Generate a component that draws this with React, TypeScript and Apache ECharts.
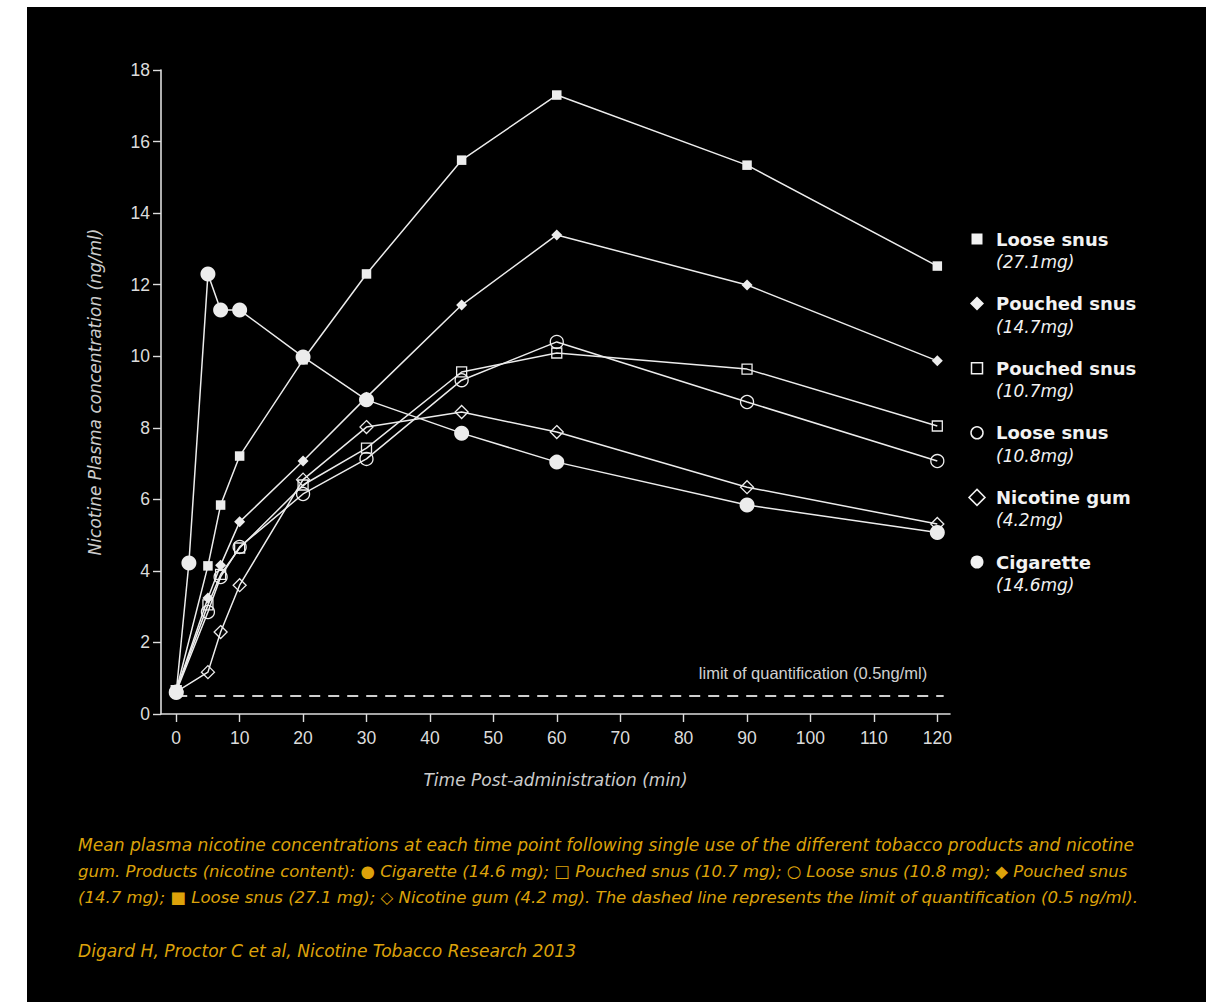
import React, { useEffect, useRef } from "react";
import * as echarts from "echarts";

// Sampling times (min)
const snusTimes = [0, 5, 7, 10, 20, 30, 45, 60, 90, 120];
const cigaretteTimes = [0, 2, 5, 7, 10, 20, 30, 45, 60, 90, 120];

// Mean plasma nicotine (ng/ml)
const looseSnus271 = [0.65, 4.14, 5.84, 7.21, 9.9, 12.3, 15.48, 17.3, 15.34, 12.52];
const pouchedSnus147 = [0.65, 3.24, 4.16, 5.37, 7.07, 8.85, 11.43, 13.39, 11.99, 9.87];
const pouchedSnus107 = [0.65, 3.05, 3.9, 4.64, 6.4, 7.43, 9.56, 10.09, 9.64, 8.05];
const looseSnus108 = [0.62, 2.85, 3.83, 4.67, 6.15, 7.13, 9.33, 10.4, 8.72, 7.07];
const nicotineGum42 = [0.62, 1.17, 2.29, 3.6, 6.55, 8.02, 8.44, 7.88, 6.34, 5.31];
const cigarette146 = [0.6, 4.22, 12.3, 11.29, 11.29, 9.98, 8.78, 7.85, 7.04, 5.84, 5.07];

// Limit of quantification
const loqValue = 0.5;
const loqRange = [0, 121];

// Tick labels
const xTicks = [0, 10, 20, 30, 40, 50, 60, 70, 80, 90, 100, 110, 120];
const yTicks = [0, 2, 4, 6, 8, 10, 12, 14, 16, 18];

const legendNames = ["Loose snus", "Pouched snus", "Pouched snus", "Loose snus", "Nicotine gum", "Cigarette"];
const legendDoses = ["(27.1mg)", "(14.7mg)", "(10.7mg)", "(10.8mg)", "(4.2mg)", "(14.6mg)"];

const captionLines = [
  "Mean plasma nicotine concentrations at each time point following single use of the different tobacco products and nicotine",
  "gum. Products (nicotine content): \u25CF Cigarette (14.6 mg); \u25A1 Pouched snus (10.7 mg); \u25CB Loose snus (10.8 mg); \u25C6 Pouched snus",
  "(14.7 mg); \u25A0 Loose snus (27.1 mg); \u25C7 Nicotine gum (4.2 mg). The dashed line represents the limit of quantification (0.5 ng/ml).",
];
const captionSizes = [17.1, 16.5, 16.55];
const sourceLine = "Digard H, Proctor C et al, Nicotine Tobacco Research 2013";

const WHITE = "#ececec";
const AXIS = "#dcdcdc";
const GOLD = "#dca20a";
const LIGHT_FONT = "'DejaVu Sans ExtraLight', 'DejaVu Sans'";

const pairs = (xs: number[], ys: number[]) => xs.map((x, i) => [x, ys[i]]);

const hollow = { color: "rgba(0,0,0,0)", borderColor: WHITE, borderWidth: 1.3 };
const filled = { color: WHITE, borderWidth: 0 };

function lineSeries(name: string, data: number[][], symbol: string, size: number, itemStyle: any, z: number) {
  return {
    name,
    type: "line",
    data,
    symbol,
    symbolSize: size,
    showSymbol: true,
    lineStyle: { color: WHITE, width: 1.5 },
    itemStyle,
    z,
    silent: true,
  };
}

export default function App() {
  const ref = useRef<HTMLDivElement>(null);

  useEffect(() => {
    const chart = echarts.init(ref.current!, null, { renderer: "svg" });

    const legendGraphics: any[] = [];
    const legendTop = 239;
    const legendStep = 64.6;
    const iconX = 977;
    const textX = 996;
    legendNames.forEach((name, i) => {
      const cy = legendTop + i * legendStep;
      let icon: any;
      if (i === 0) icon = { type: "rect", shape: { x: iconX - 5.5, y: cy - 5.5, width: 11, height: 11 }, style: { fill: "#f2f2f2" } };
      else if (i === 1)
        icon = { type: "polygon", shape: { points: [[iconX, cy - 7], [iconX + 7, cy], [iconX, cy + 7], [iconX - 7, cy]] }, style: { fill: "#f2f2f2" } };
      else if (i === 2)
        icon = { type: "rect", shape: { x: iconX - 5.5, y: cy - 5.5, width: 11, height: 11 }, style: { fill: "none", stroke: "#f2f2f2", lineWidth: 1.5 } };
      else if (i === 3) icon = { type: "circle", shape: { cx: iconX, cy, r: 6 }, style: { fill: "none", stroke: "#f2f2f2", lineWidth: 1.5 } };
      else if (i === 4)
        icon = { type: "polygon", shape: { points: [[iconX, cy - 8], [iconX + 8, cy], [iconX, cy + 8], [iconX - 8, cy]] }, style: { fill: "none", stroke: "#f2f2f2", lineWidth: 1.5 } };
      else icon = { type: "circle", shape: { cx: iconX, cy, r: 6.5 }, style: { fill: "#f2f2f2" } };
      legendGraphics.push(icon);
      legendGraphics.push({
        type: "text",
        x: textX,
        y: cy,
        style: { text: name, fill: "#f2f2f2", fontFamily: "DejaVu Sans", fontWeight: "bold", fontSize: 18, textVerticalAlign: "middle" },
      });
      legendGraphics.push({
        type: "text",
        x: textX,
        y: cy + 23,
        style: { text: legendDoses[i], fill: "#f2f2f2", fontFamily: "DejaVu Sans", fontStyle: "italic", fontSize: 17, textVerticalAlign: "middle" },
      });
    });

    const captionGraphics: any[] = captionLines.map((t, i) => ({
      type: "text",
      x: 78,
      y: 845 + i * 26,
      style: { text: t, fill: GOLD, fontFamily: LIGHT_FONT, fontStyle: "italic", fontWeight: 200, fontSize: captionSizes[i], textVerticalAlign: "middle" },
    }));
    captionGraphics.push({
      type: "text",
      x: 78,
      y: 951,
      style: { text: sourceLine, fill: GOLD, fontFamily: LIGHT_FONT, fontStyle: "italic", fontWeight: 200, fontSize: 17.1, textVerticalAlign: "middle" },
    });

    const option: any = {
      animation: false,
      backgroundColor: "transparent",
      grid: { left: 161, right: 256, top: 70, bottom: 288, containLabel: false, outerBoundsMode: "none" },
      xAxis: {
        type: "value",
        min: -2.4,
        max: 122,
        name: "Time Post-administration (min)",
        nameLocation: "middle",
        nameGap: 57,
        nameTextStyle: { color: "#cccccc", fontFamily: LIGHT_FONT, fontStyle: "italic", fontWeight: 200, fontSize: 17 },
        axisLine: { show: true, onZero: false, lineStyle: { color: AXIS, width: 1.6 } },
        axisTick: { show: true, length: 8, customValues: xTicks, lineStyle: { color: AXIS, width: 1.4 } },
        axisLabel: { customValues: xTicks, color: AXIS, fontFamily: "Liberation Sans", fontSize: 17.5, margin: 15 },
        splitLine: { show: false },
      },
      yAxis: {
        type: "value",
        min: 0,
        max: 18,
        interval: 2,
        name: "Nicotine Plasma concentration (ng/ml)",
        nameLocation: "middle",
        nameGap: 58,
        nameRotate: 90,
        nameTextStyle: { color: "#cccccc", fontFamily: LIGHT_FONT, fontStyle: "italic", fontWeight: 200, fontSize: 17 },
        axisLine: { show: true, onZero: false, lineStyle: { color: AXIS, width: 1.6 } },
        axisTick: { show: true, length: 8, lineStyle: { color: AXIS, width: 1.4 } },
        axisLabel: {
          color: AXIS,
          fontFamily: "Liberation Sans",
          fontSize: 17.5,
          margin: 11,
          formatter: (v: number) => (yTicks.includes(v) ? String(v) : ""),
        },
        splitLine: { show: false },
      },
      series: [
        {
          name: "LOQ",
          type: "line",
          data: [[loqRange[0], loqValue], [loqRange[1], loqValue]],
          symbol: "none",
          lineStyle: { color: "#cfcfcf", width: 2, type: [11, 8] },
          silent: true,
          z: 1,
        },
        lineSeries("Loose snus (27.1mg)", pairs(snusTimes, looseSnus271), "rect", 9.5, filled, 3),
        lineSeries("Pouched snus (14.7mg)", pairs(snusTimes, pouchedSnus147), "diamond", 11, filled, 3),
        lineSeries("Pouched snus (10.7mg)", pairs(snusTimes, pouchedSnus107), "rect", 10, hollow, 3),
        lineSeries("Loose snus (10.8mg)", pairs(snusTimes, looseSnus108), "circle", 13, hollow, 3),
        lineSeries("Nicotine gum (4.2mg)", pairs(snusTimes, nicotineGum42), "diamond", 13, hollow, 3),
        lineSeries("Cigarette (14.6mg)", pairs(cigaretteTimes, cigarette146), "circle", 15, filled, 4),
      ],
      graphic: [...legendGraphics, ...captionGraphics],
    };

    chart.setOption(option);
    const p = chart.convertToPixel({ gridIndex: 0 }, [118.4, 1.15]) as number[];
    chart.setOption({
      graphic: [
        ...legendGraphics,
        ...captionGraphics,
        {
          type: "text",
          x: p[0],
          y: p[1],
          style: {
            text: "limit of quantification (0.5ng/ml)",
            fill: "#d0d0d0",
            fontFamily: "Liberation Sans",
            fontSize: 16.5,
            textAlign: "right",
            textVerticalAlign: "middle",
          },
        },
      ],
    });

    return () => chart.dispose();
  }, []);

  return (
    <div style={{ position: "absolute", left: 0, top: 0, width: 1206, height: 1002, background: "#fff", overflow: "hidden" }}>
      <div style={{ position: "absolute", left: 27, top: 7, width: 1179, height: 995, background: "#000" }} />
      <div ref={ref} style={{ position: "absolute", left: 0, top: 0, width: 1206, height: 1002 }} />
    </div>
  );
}
